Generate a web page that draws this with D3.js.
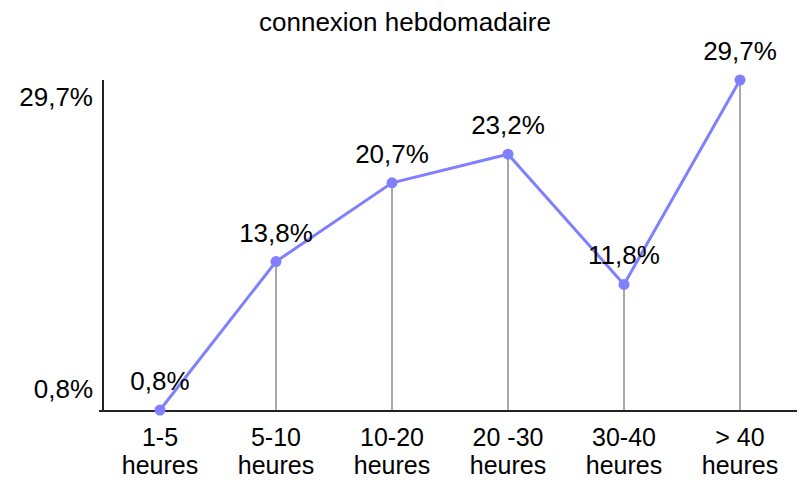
<!DOCTYPE html>
<html>
<head>
<meta charset="utf-8">
<script src="https://cdn.jsdelivr.net/npm/d3@7"></script>
<style>
  body { margin: 0; background: #fff; }
  text { font-family: "Liberation Sans", Arial, sans-serif; fill: #000; }
</style>
</head>
<body>
<div id="chart"></div>
<script>
// data
var categories = ["1-5|heures", "5-10|heures", "10-20|heures", "20 -30|heures", "30-40|heures", "> 40|heures"];
var values = [0.8, 13.8, 20.7, 23.2, 11.8, 29.7];
var valueLabels = ["0,8%", "13,8%", "20,7%", "23,2%", "11,8%", "29,7%"];
var yTicks = [0.8, 29.7];
var yTickLabels = ["0,8%", "29,7%"];

var width = 800, height = 480;
var margin = {top: 80, right: 3, bottom: 69, left: 103};

var svg = d3.select("#chart").append("svg")
  .attr("width", width)
  .attr("height", height);

var x = d3.scalePoint()
  .domain(categories)
  .range([160, 740]);

var y = d3.scaleLinear()
  .domain([0.8, 29.7])
  .range([height - margin.bottom - 1, margin.top]);

var y0 = height - margin.bottom;

// title
svg.append("text")
  .attr("x", 405)
  .attr("y", 31)
  .attr("text-anchor", "middle")
  .style("font-size", "26px")
  .text("connexion hebdomadaire");

// drop lines
svg.selectAll(".drop")
  .data(values)
  .enter().append("line")
  .attr("class", "drop")
  .attr("x1", function(d, i) { return x(categories[i]); })
  .attr("x2", function(d, i) { return x(categories[i]); })
  .attr("y1", function(d) { return y(d); })
  .attr("y2", y0)
  .attr("stroke", "#8c8c8c")
  .attr("stroke-width", 1.5);

// axes
svg.append("line")
  .attr("x1", margin.left).attr("x2", margin.left)
  .attr("y1", margin.top).attr("y2", y0 + 1)
  .attr("stroke", "#222").attr("stroke-width", 2);
svg.append("line")
  .attr("x1", margin.left - 4).attr("x2", width - margin.right)
  .attr("y1", y0).attr("y2", y0)
  .attr("stroke", "#222").attr("stroke-width", 2);

// y labels
var yOff = [-12, 26];
svg.selectAll(".ylab")
  .data(yTicks)
  .enter().append("text")
  .attr("class", "ylab")
  .attr("x", 93)
  .attr("y", function(d, i) { return y(d) + yOff[i]; })
  .attr("text-anchor", "end")
  .style("font-size", "26px")
  .text(function(d, i) { return yTickLabels[i]; });

// x labels (two lines)
var xl = svg.selectAll(".xlab")
  .data(categories)
  .enter().append("text")
  .attr("class", "xlab")
  .attr("x", function(d) { return x(d); })
  .attr("text-anchor", "middle")
  .style("font-size", "25px");
xl.append("tspan")
  .attr("x", function(d) { return x(d); })
  .attr("y", 446)
  .text(function(d) { return d.split("|")[0]; });
xl.append("tspan")
  .attr("x", function(d) { return x(d); })
  .attr("y", 474)
  .text(function(d) { return d.split("|")[1]; });

// line
var line = d3.line()
  .x(function(d, i) { return x(categories[i]); })
  .y(function(d) { return y(d); });

svg.append("path")
  .datum(values)
  .attr("d", line)
  .attr("fill", "none")
  .attr("stroke", "#8080ff")
  .attr("stroke-width", 3);

svg.selectAll(".dot")
  .data(values)
  .enter().append("circle")
  .attr("class", "dot")
  .attr("cx", function(d, i) { return x(categories[i]); })
  .attr("cy", function(d) { return y(d); })
  .attr("r", 5.5)
  .attr("fill", "#8080ff");

// value labels
svg.selectAll(".vlab")
  .data(values)
  .enter().append("text")
  .attr("class", "vlab")
  .attr("x", function(d, i) { return x(categories[i]); })
  .attr("y", function(d) { return y(d) - 20; })
  .attr("text-anchor", "middle")
  .style("font-size", "26px")
  .text(function(d, i) { return valueLabels[i]; });
</script>
</body>
</html>
